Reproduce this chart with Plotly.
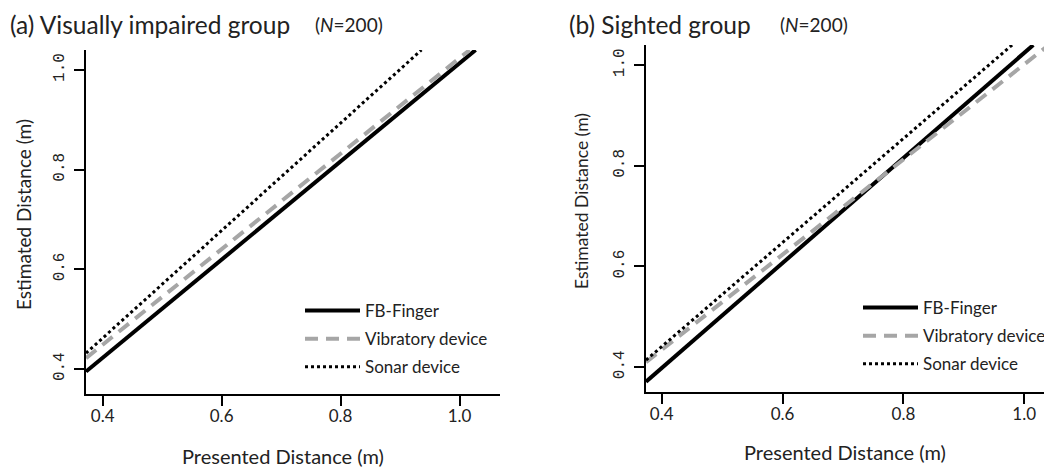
import plotly.graph_objects as go

# Screen is 1052x469; the page body adds an 8px margin, so the figure is 8px smaller
SCREEN_W, SCREEN_H = 1052, 469
OFF = 8
W, H = SCREEN_W - OFF, SCREEN_H - OFF

series_names = ["FB-Finger", "Vibratory device", "Sonar device"]

# Left panel (a): regression lines, endpoints (x, y)
a_fb_x = [0.372, 1.027]
a_fb_y = [0.395, 1.040]
a_vib_x = [0.372, 1.017]
a_vib_y = [0.422, 1.040]
a_son_x = [0.372, 0.936]
a_son_y = [0.432, 1.040]

# Right panel (b)
b_fb_x = [0.374, 1.015]
b_fb_y = [0.371, 1.040]
b_vib_x = [0.374, 1.046]
b_vib_y = [0.410, 1.045]
b_son_x = [0.374, 0.980]
b_son_y = [0.414, 1.040]

tick_vals = [0.4, 0.6, 0.8, 1.0]
tick_text = ["0.4", "0.6", "0.8", "1.0"]

styles = [
    dict(color="black", width=4, dash="solid"),
    dict(color="#a6a6a6", width=4, dash="13px,8px"),
    dict(color="black", width=3, dash="dot"),
]

FONT = "Lato"

fig = go.Figure()
left = [(a_fb_x, a_fb_y), (a_vib_x, a_vib_y), (a_son_x, a_son_y)]
right = [(b_fb_x, b_fb_y), (b_vib_x, b_vib_y), (b_son_x, b_son_y)]
for i, (xs, ys) in enumerate(left):
    fig.add_trace(go.Scatter(x=xs, y=ys, mode="lines", name=series_names[i],
                             line=styles[i], xaxis="x", yaxis="y",
                             legend="legend", legendgroup="a%d" % i))
for i, (xs, ys) in enumerate(right):
    fig.add_trace(go.Scatter(x=xs, y=ys, mode="lines", name=series_names[i],
                             line=styles[i], xaxis="x2", yaxis="y2",
                             legend="legend2", legendgroup="b%d" % i))

def px_x(p):
    return (p - OFF) / W

def px_y(p):
    return (SCREEN_H - p) / H

xcommon = dict(showline=True, linecolor="black", linewidth=1.5, ticks="outside",
               ticklen=10, tickwidth=1.5, tickcolor="black", showgrid=False,
               zeroline=False, tickvals=tick_vals, ticktext=tick_text,
               ticklabelstandoff=-4,
               tickfont=dict(family=FONT, size=17, color="#222"))
ycommon = dict(showline=True, linecolor="black", linewidth=1.5, ticks="outside",
               ticklen=10, tickwidth=1.5, tickcolor="black", showgrid=False,
               zeroline=False, tickvals=tick_vals, ticktext=tick_text,
               tickangle=-90, ticklabelstandoff=4,
               tickfont=dict(family="Liberation Mono", size=16, color="#222"))

legend_common = dict(font=dict(family=FONT, size=17, color="#222"),
                     bgcolor="rgba(0,0,0,0)", traceorder="grouped",
                     tracegroupgap=3, itemwidth=55,
                     xanchor="left", yanchor="top", xref="paper", yref="paper")

fig.update_layout(
    width=W, height=H,
    margin=dict(l=0, r=0, t=0, b=0),
    paper_bgcolor="white", plot_bgcolor="white",
    xaxis=dict(domain=[px_x(86), px_x(500)], range=[0.372, 1.068], anchor="y", **xcommon),
    yaxis=dict(domain=[px_y(394), px_y(50)], range=[0.35, 1.04], anchor="x", **ycommon),
    xaxis2=dict(domain=[px_x(646), 1.0], range=[0.374, 1.046], anchor="y2", **xcommon),
    yaxis2=dict(domain=[px_y(392.3), px_y(45)], range=[0.35, 1.04], anchor="x2", **ycommon),
    legend=dict(x=px_x(300), y=px_y(293), **legend_common),
    legend2=dict(x=px_x(858), y=px_y(290), **legend_common),
    showlegend=True,
)

ann = []
def add_text(text, xp, yp, size, xanchor="left", angle=0):
    ann.append(dict(text=text, x=px_x(xp), y=px_y(yp), xref="paper", yref="paper",
                    xanchor=xanchor, yanchor="middle", showarrow=False,
                    textangle=angle, font=dict(family=FONT, size=size, color="#222")))

add_text("(a) Visually impaired group", 8, 24, 24.5)
add_text("(<i>N</i>=200)", 313, 24, 19)
add_text("(b) Sighted group", 567, 24, 24.5)
add_text("(<i>N</i>=200)", 778, 24, 19)
add_text("Presented Distance (m)", 283, 456, 20, xanchor="center")
add_text("Presented Distance (m)", 845, 452, 20, xanchor="center")
add_text("Estimated Distance (m)", 23, 215, 19, xanchor="center", angle=-90)
add_text("Estimated Distance (m)", 581, 201, 17.5, xanchor="center", angle=-90)
fig.update_layout(annotations=ann)

fig.write_html("out.html")
